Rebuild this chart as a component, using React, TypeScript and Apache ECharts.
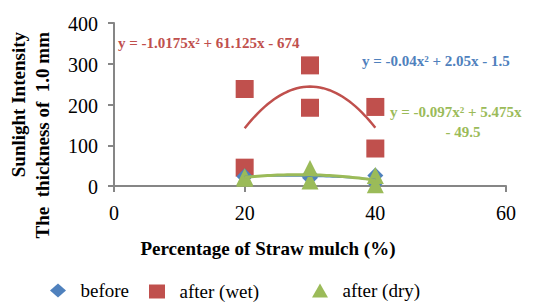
import React, { useEffect, useRef } from "react";
import * as echarts from "echarts";

const seriesNames = ["before", "after (wet)", "after (dry)"];
const xValues = [20, 20, 30, 30, 40, 40];
const beforeValues = [24, 23, 28, 20, 26, 7];
const wetValues = [238, 45, 296, 192, 194, 92];
const dryValues = [23, 19, 43, 12, 26, 3];
// trendline coefficients [a, b, c] for y = a x^2 + b x + c, as printed on the chart
const beforeCoef = [-0.04, 2.05, -1.5];
const wetCoef = [-1.0175, 61.125, -674];
const dryCoef = [-0.097, 5.475, -49.5];
const equations = [
  "y = -0.04x² + 2.05x - 1.5",
  "y = -1.0175x² + 61.125x - 674",
  "y = -0.097x² + 5.475x",
  "- 49.5",
];
const xTickLabels = [0, 20, 40, 60];
const yTickLabels = [0, 100, 200, 300, 400];
const xTicks = { min: 0, max: 60, interval: 20 };
const yTicks = { min: 0, max: 400, interval: 100 };

const colors = ["#4F81BD", "#C0504D", "#9BBB59"];
const FONT = "'Liberation Serif', 'Times New Roman', serif";

function pairs(xs: number[], ys: number[]) {
  return xs.map((x, i) => [x, ys[i]]);
}
function trend(coef: number[]) {
  const pts: number[][] = [];
  for (let x = 20; x <= 40.0001; x += 0.5) {
    pts.push([x, coef[0] * x * x + coef[1] * x + coef[2]]);
  }
  return pts;
}

export default function App() {
  const ref = useRef<HTMLDivElement>(null);
  useEffect(() => {
    if (!ref.current) return;
    const chart = echarts.init(ref.current, null, { renderer: "svg" });
    const axisLine = { show: true, lineStyle: { color: "#868686", width: 2 } };
    const legendBase = {
      orient: "horizontal" as const,
      top: 281,
      padding: 0,
      itemWidth: 16,
      itemHeight: 14,
      formatter: (n: string) => "  " + n,
      textStyle: { fontFamily: FONT, fontSize: 19, color: "#000" },
    };
    const staticGraphics: any[] = [
      {
        type: "text",
        x: 18,
        y: 32,
        rotation: Math.PI / 2,
        style: {
          text: "Sunlight Intensity",
          font: `bold 19px ${FONT}`,
          fill: "#000",
          textAlign: "right",
          textVerticalAlign: "middle",
        },
      },
      {
        type: "text",
        x: 42,
        y: 32,
        rotation: Math.PI / 2,
        style: {
          text: "The  thickness of  1.0 mm",
          font: `bold 19px ${FONT}`,
          fill: "#000",
          textAlign: "right",
          textVerticalAlign: "middle",
        },
      },
      {
        type: "text",
        x: 268,
        y: 248,
        style: {
          text: "Percentage of Straw mulch (%)",
          font: `bold 19px ${FONT}`,
          fill: "#000",
          textAlign: "center",
          textVerticalAlign: "middle",
        },
      },
      {
        type: "text",
        x: 118,
        y: 43,
        style: {
          text: equations[1],
          font: `bold 15px ${FONT}`,
          fill: colors[1],
          textAlign: "left",
          textVerticalAlign: "middle",
        },
      },
      {
        type: "text",
        x: 362,
        y: 61,
        style: {
          text: equations[0],
          font: `bold 15px ${FONT}`,
          fill: colors[0],
          textAlign: "left",
          textVerticalAlign: "middle",
        },
      },
      {
        type: "text",
        x: 390,
        y: 112,
        style: {
          text: equations[2],
          font: `bold 15px ${FONT}`,
          fill: colors[2],
          textAlign: "left",
          textVerticalAlign: "middle",
        },
      },
      {
        type: "text",
        x: 463,
        y: 132,
        style: {
          text: equations[3],
          font: `bold 15px ${FONT}`,
          fill: colors[2],
          textAlign: "center",
          textVerticalAlign: "middle",
        },
      },
    ];
    chart.setOption({
      animation: false,
      textStyle: { fontFamily: FONT },
      grid: { left: 114, right: 31, top: 23, bottom: 116, containLabel: false },
      xAxis: {
        type: "value",
        ...xTicks,
        axisLine,
        axisTick: { show: true, length: 6, lineStyle: { color: "#868686", width: 2 } },
        splitLine: { show: false },
        axisLabel: { show: false },
      },
      yAxis: {
        type: "value",
        ...yTicks,
        axisLine,
        axisTick: { show: true, length: 6, lineStyle: { color: "#868686", width: 2 } },
        splitLine: { show: false },
        axisLabel: { show: false },
      },
      legend: [
        { ...legendBase, left: 50, data: [{ name: seriesNames[0], icon: "diamond" }] },
        { ...legendBase, left: 149, top: 282, data: [{ name: seriesNames[1], icon: "rect" }] },
        { ...legendBase, left: 312, data: [{ name: seriesNames[2], icon: "triangle" }] },
      ],
      series: [
        {
          name: seriesNames[1],
          type: "scatter",
          symbol: "rect",
          symbolSize: 18,
          itemStyle: { color: colors[1], opacity: 1 },
          data: pairs(xValues, wetValues),
          z: 2,
        },
        {
          name: seriesNames[0],
          type: "scatter",
          symbol: "diamond",
          symbolSize: 16,
          itemStyle: { color: colors[0], opacity: 1 },
          data: pairs(xValues, beforeValues),
          z: 3,
        },
        {
          name: seriesNames[2],
          type: "scatter",
          symbol: "triangle",
          symbolSize: 17,
          itemStyle: { color: colors[2], opacity: 1 },
          data: pairs(xValues, dryValues),
          z: 4,
        },
        {
          name: "wet trend",
          type: "line",
          symbol: "none",
          data: trend(wetCoef),
          lineStyle: { color: colors[1], width: 2.5 },
          z: 5,
          silent: true,
        },
        {
          name: "before trend",
          type: "line",
          symbol: "none",
          data: trend(beforeCoef),
          lineStyle: { color: colors[0], width: 1.5 },
          z: 5,
          silent: true,
        },
        {
          name: "dry trend",
          type: "line",
          symbol: "none",
          data: trend(dryCoef),
          lineStyle: { color: colors[2], width: 3 },
          z: 6,
          silent: true,
        },
      ],
      graphic: staticGraphics,
    });
    // tick labels, positioned through the chart's own scales
    const tickGraphics: any[] = [];
    xTickLabels.forEach((v) => {
      const p = chart.convertToPixel({ gridIndex: 0 }, [v, 0]) as number[];
      tickGraphics.push({
        type: "text",
        x: p[0],
        y: p[1] + 27,
        style: {
          text: String(v),
          font: `20px ${FONT}`,
          fill: "#000",
          textAlign: "center",
          textVerticalAlign: "middle",
        },
      });
    });
    yTickLabels.forEach((v) => {
      const p = chart.convertToPixel({ gridIndex: 0 }, [0, v]) as number[];
      tickGraphics.push({
        type: "text",
        x: p[0] - 16,
        y: p[1] + 1,
        style: {
          text: String(v),
          font: `20px ${FONT}`,
          fill: "#000",
          textAlign: "right",
          textVerticalAlign: "middle",
        },
      });
    });
    chart.setOption({ graphic: [...staticGraphics, ...tickGraphics] });
    return () => chart.dispose();
  }, []);
  return <div ref={ref} style={{ width: 537, height: 302, position: "absolute", left: 0, top: 0 }} />;
}
